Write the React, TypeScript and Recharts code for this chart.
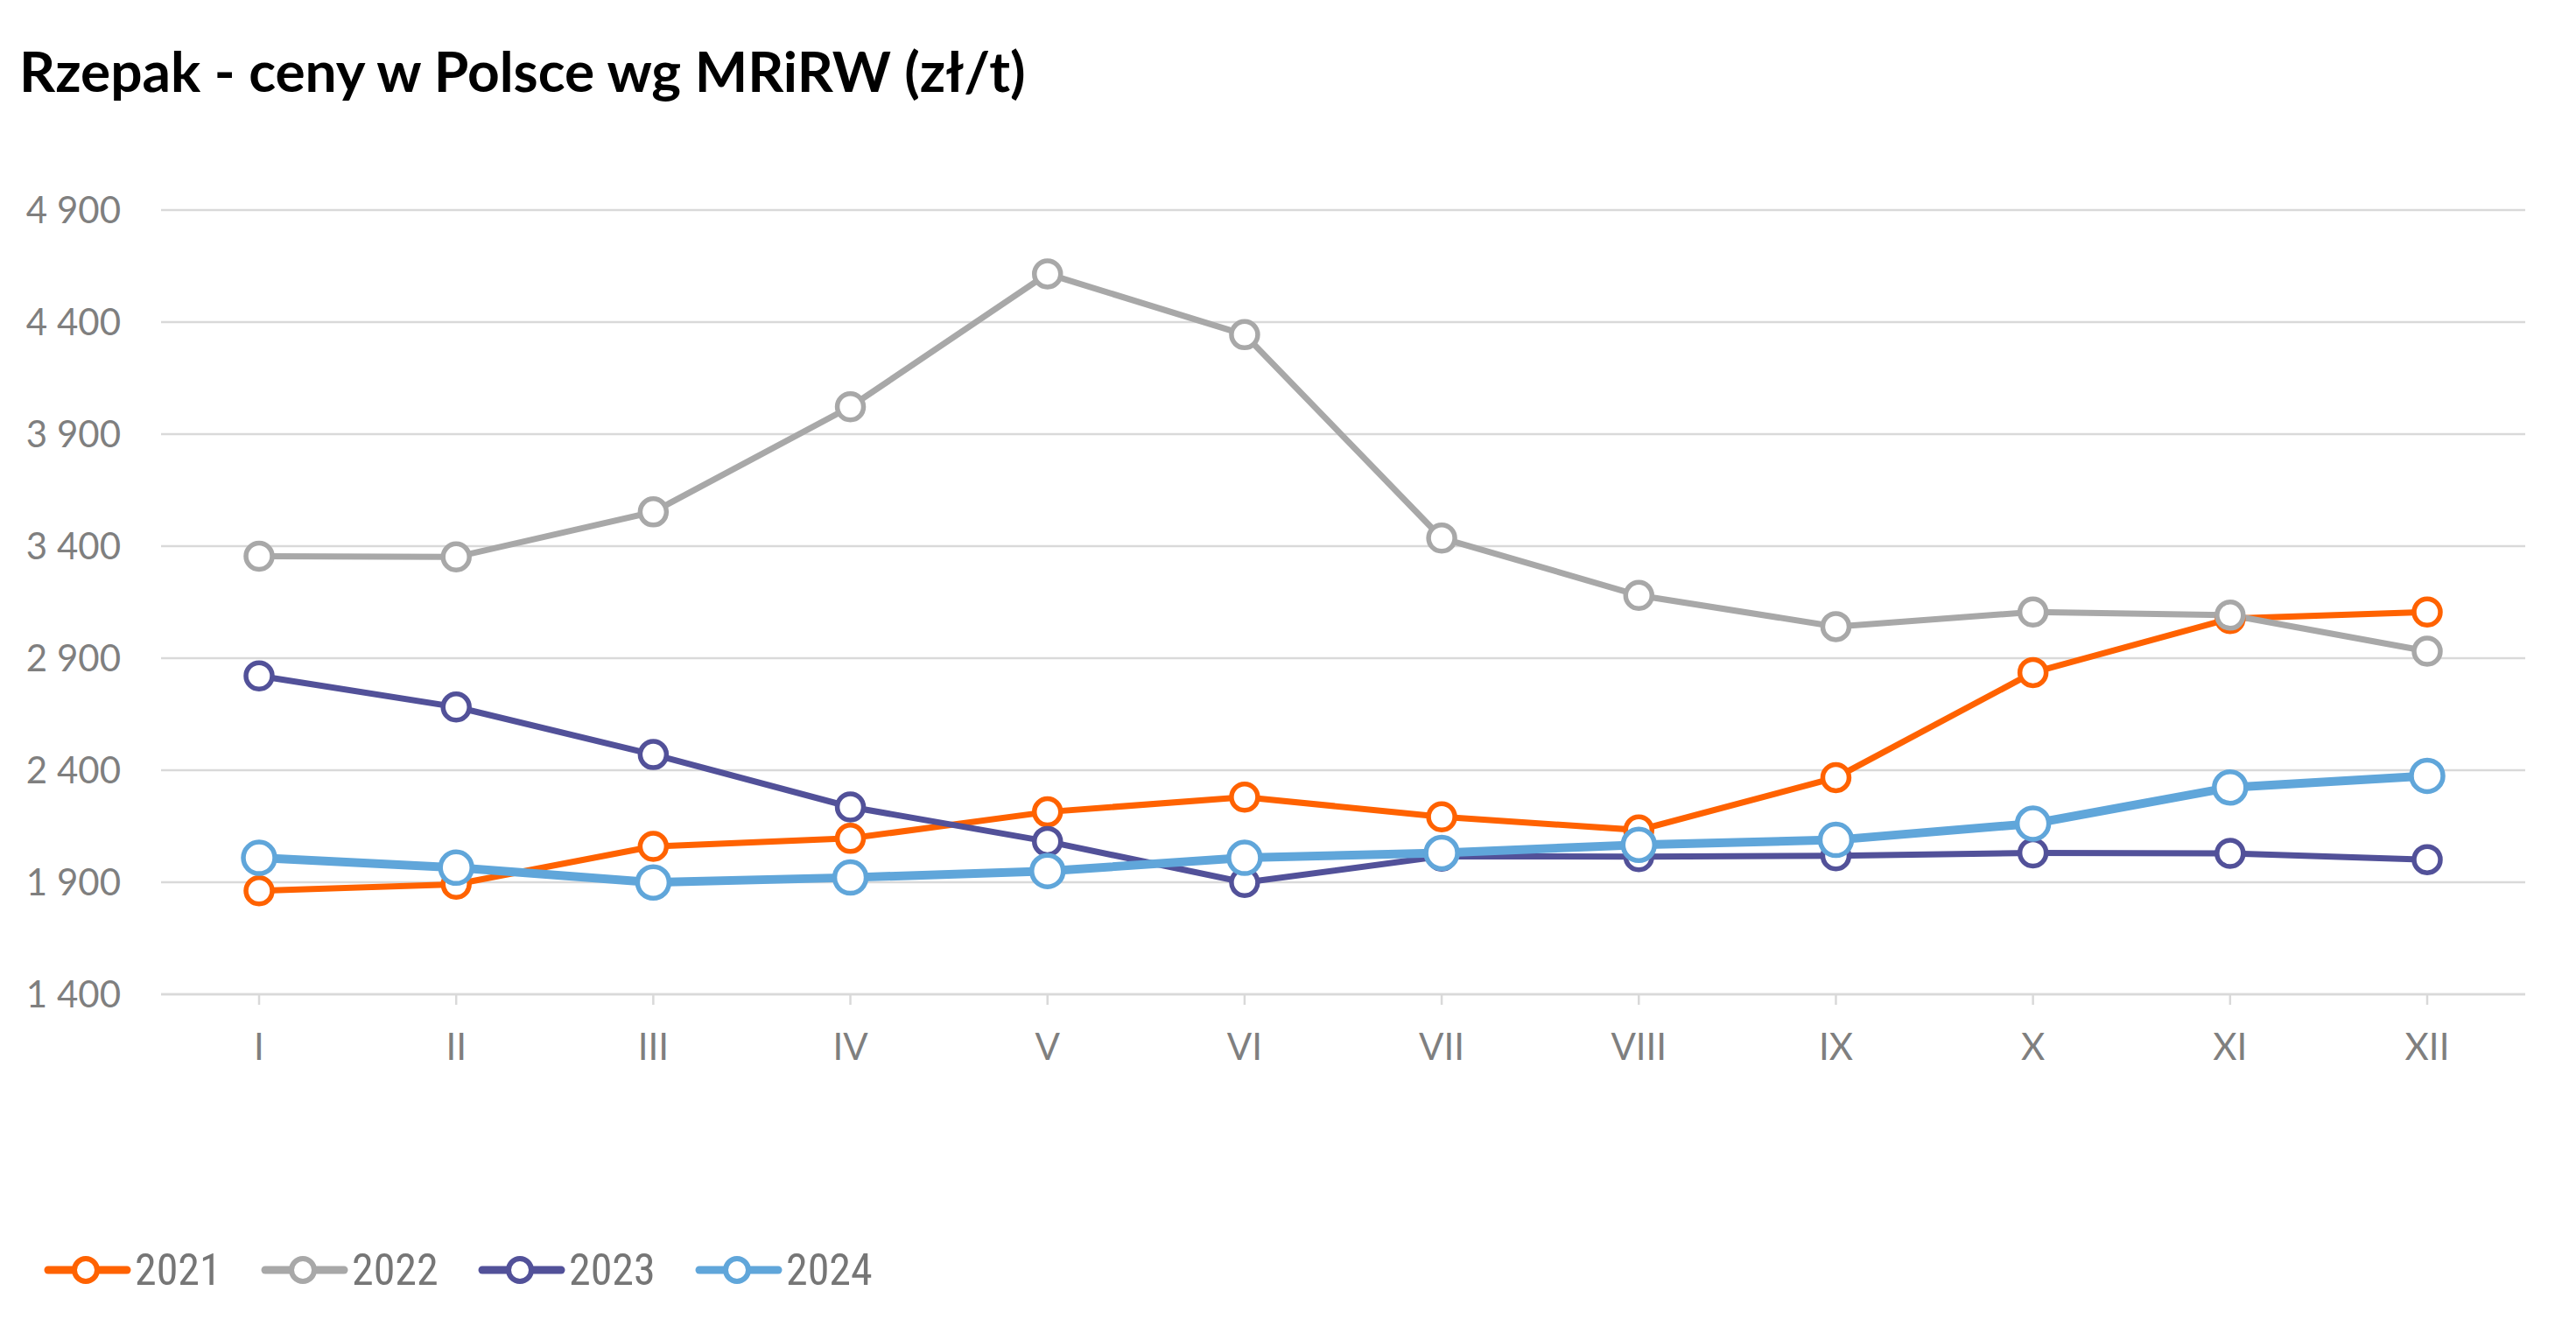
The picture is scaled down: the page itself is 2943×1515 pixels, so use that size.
import { LineChart, Line, XAxis, YAxis, CartesianGrid } from "recharts";

const MONTHS = ["I", "II", "III", "IV", "V", "VI", "VII", "VIII", "IX", "X", "XI", "XII"];

const Y2021 = [1862, 1891, 2060, 2096, 2214, 2280, 2192, 2133, 2367, 2836, 3077, 3106];
const Y2022 = [3355, 3352, 3553, 4022, 4615, 4344, 3436, 3180, 3041, 3106, 3092, 2931];
const Y2023 = [2821, 2682, 2470, 2236, 2082, 1899, 2016, 2014, 2018, 2031, 2029, 2001];
const Y2024 = [2009, 1965, 1899, 1921, 1950, 2009, 2031, 2067, 2089, 2162, 2323, 2375];

const Y_TICKS = [1400, 1900, 2400, 2900, 3400, 3900, 4400, 4900];

const SERIES = [
  { key: "2021", color: "#ff6200", width: 7, r: 15 },
  { key: "2022", color: "#a8a8a8", width: 7, r: 15 },
  { key: "2023", color: "#525199", width: 7, r: 15 },
  { key: "2024", color: "#60a6da", width: 10, r: 18 },
];

const data = MONTHS.map((m, i) => ({
  month: m,
  "2021": Y2021[i],
  "2022": Y2022[i],
  "2023": Y2023[i],
  "2024": Y2024[i],
}));

const fmt = (v: number) => {
  const s = String(v);
  return s.length > 3 ? s.slice(0, s.length - 3) + " " + s.slice(-3) : s;
};

const GRID = "#d9d9d9";
const TICK_FONT = { fontFamily: "Lato, sans-serif", fontSize: 42, fill: "#7f7f7f" };

function Legend() {
  return (
    <div style={{ position: "absolute", left: 50, top: 1421, display: "flex", height: 60 }}>
      {SERIES.map((s) => (
        <div key={s.key} style={{ display: "flex", alignItems: "center", width: 248 }}>
          <svg width={100} height={60}>
            <line x1={5} y1={30} x2={95} y2={30} stroke={s.color} strokeWidth={9} strokeLinecap="round" />
            <circle cx={48} cy={30} r={13} fill="#fff" stroke={s.color} strokeWidth={6} />
          </svg>
          <span
            style={{
              fontFamily: "'Liberation Sans Narrow', 'Roboto Condensed', sans-serif",
              fontSize: 50,
              color: "#767676",
              marginLeft: 4,
            }}
          >
            {s.key}
          </span>
        </div>
      ))}
    </div>
  );
}

export default function App() {
  return (
    <div style={{ position: "absolute", left: 0, top: 0, width: 2943, height: 1515, background: "#fff" }}>
      <div
        style={{
          position: "absolute",
          left: 22,
          top: 49,
          fontFamily: "Lato, sans-serif",
          fontWeight: 700,
          fontSize: 64,
          lineHeight: 1,
          color: "#000",
          whiteSpace: "nowrap",
        }}
      >
        Rzepak - ceny w Polsce wg MRiRW (zł/t)
      </div>
      <LineChart
        width={2943}
        height={1515}
        data={data}
        margin={{ top: 240, right: 58, bottom: 319, left: 0 }}
      >
        <CartesianGrid vertical={false} stroke={GRID} strokeWidth={2.5} />
        <XAxis
          dataKey="month"
          height={60}
          padding={{ left: 112, right: 112 }}
          axisLine={{ stroke: GRID, strokeWidth: 2.5 }}
          tickLine={{ stroke: GRID, strokeWidth: 2.5 }}
          tickSize={12}
          tickMargin={33}
          tick={TICK_FONT}
          interval={0}
        />
        <YAxis
          width={184}
          domain={[1400, 4900]}
          ticks={Y_TICKS}
          tickFormatter={fmt}
          axisLine={false}
          tickLine={false}
          tickMargin={40}
          tick={TICK_FONT}
          interval={0}
        />
        {SERIES.map((s) => (
          <Line
            key={s.key}
            dataKey={s.key}
            stroke={s.color}
            strokeWidth={s.width}
            dot={{ r: s.r, fill: "#fff", stroke: s.color, strokeWidth: 5.5 }}
            activeDot={false}
            isAnimationActive={false}
          />
        ))}
      </LineChart>
      <Legend />
    </div>
  );
}
